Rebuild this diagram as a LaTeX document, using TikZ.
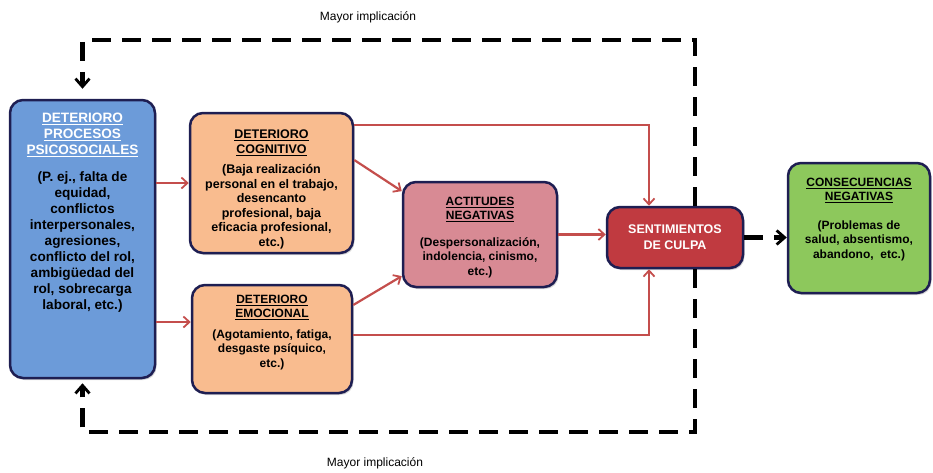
\documentclass[tikz,border=0pt]{standalone}
\usepackage{fontspec}
\setmainfont{Liberation Sans}
\usetikzlibrary{arrows.meta,shadows,positioning}
\definecolor{myblue}{RGB}{108,155,217}
\definecolor{mypeach}{RGB}{249,188,143}
\definecolor{mypink}{RGB}{216,138,148}
\definecolor{myred}{RGB}{192,58,64}
\definecolor{mygreen}{RGB}{141,200,92}
\definecolor{myline}{RGB}{30,30,82}
\definecolor{myarrow}{RGB}{196,78,76}
% width, height, top space, font size, line skip, text
\newcommand{\boxtext}[6]{\parbox[c][#2][t]{#1}{\centering\fontsize{#4}{#5}\selectfont\bfseries\vspace*{#3}#6}}
\tikzset{
  frame/.style={rectangle, draw=myline, line width=2.5pt, rounded corners=13pt, inner sep=0pt, drop shadow={opacity=0.3, shadow xshift=1.5pt, shadow yshift=-2pt}},
  arrow/.style={draw=myarrow, -{Straight Barb[length=6pt,width=11pt,line width=1.8pt]}, line width=2.2pt},
  back/.style={draw, -{Straight Barb[length=8pt,width=14pt,line width=2.8pt]}, line width=4.5pt, dash pattern=on 19pt off 11pt},
  note/.style={font=\fontsize{12}{14}\selectfont}
}

\begin{document}
\begin{tikzpicture}[x=1pt,y=-1pt]
\useasboundingbox (0,0) rectangle (933,472);

% boxes
\node [frame, fill=myblue, minimum width=145pt, minimum height=278pt] (psico) at (82.5,239)
{\boxtext{140pt}{276pt}{12pt}{13.6}{16}{\color{white}\underline{DETERIORO}\\ \underline{PROCESOS}\\ \underline{PSICOSOCIALES}\\[11pt]
\color{black}(P. ej., falta de\\ equidad,\\ conflictos\\ interpersonales,\\ agresiones,\\ conflicto del rol,\\ ambigüedad del\\ rol, sobrecarga\\ laboral, etc.)}};

\node [frame, fill=mypeach, minimum width=163pt, minimum height=140pt] (cogn) at (271.5,183)
{\boxtext{158pt}{138pt}{16pt}{12.5}{14.5}{\underline{DETERIORO}\\ \underline{COGNITIVO}\\[6pt]
(Baja realización\\ personal en el trabajo,\\ desencanto\\ profesional, baja\\ eficacia profesional,\\ etc.)}};

\node [frame, fill=mypeach, minimum width=160pt, minimum height=108pt] (emoc) at (272,339)
{\boxtext{152pt}{106pt}{9pt}{12}{14.5}{\underline{DETERIORO}\\ \underline{EMOCIONAL}\\[6pt]
(Agotamiento, fatiga,\\ desgaste psíquico,\\ etc.)}};

\node [frame, fill=mypink, minimum width=154pt, minimum height=105pt] (actit) at (480,234.5)
{\boxtext{148pt}{103pt}{14pt}{12}{14.5}{\underline{ACTITUDES}\\ \underline{NEGATIVAS}\\[12pt]
(Despersonalización,\\ indolencia, cinismo,\\ etc.)}};

\node [frame, fill=myred, minimum width=136pt, minimum height=61pt, text=white, font=\fontsize{12.5}{16}\selectfont\bfseries, align=center] (culpa) at (675,237.5)
{SENTIMIENTOS\\ DE CULPA};

\node [frame, fill=mygreen, minimum width=142pt, minimum height=130pt] (conse) at (859,228)
{\boxtext{136pt}{128pt}{14pt}{12}{14.5}{\underline{CONSECUENCIAS}\\ \underline{NEGATIVAS}\\[14pt]
(Problemas de\\ salud, absentismo,\\ abandono,\ \ etc.)}};

% labels
\node [note] (labtop) at (368,17) {Mayor implicación};
\node [note] (labbot) at (375,463) {Mayor implicación};

% red arrows
\coordinate (e1) at ([yshift=17pt]emoc.west);
\draw [arrow] (psico.east |- cogn.west) -- (cogn.west);
\draw [arrow] (psico.east |- e1) -- (e1);
\draw [arrow] ([yshift=23pt]cogn.east) -- (actit.151);
\draw [arrow] ([yshift=34pt]emoc.east) -- (actit.208);
\draw [arrow] ([yshift=58pt]cogn.east) -| ([xshift=-26pt]culpa.north);
\draw [arrow] ([yshift=4pt]emoc.east) -| ([xshift=-26pt]culpa.south);
\draw [arrow] (actit.east) -- (actit.east -| culpa.west);

% dashed feedback
\coordinate (rtop) at (695,40);
\coordinate (rbot) at (695,432);
\draw [back, shorten >=10pt] (culpa.north -| rtop) -- (rtop) -| (psico.north);
\draw [back, shorten >=4pt] (culpa.south -| rbot) -- (rbot) -| (psico.south);
\draw [back] (culpa.east) -- (conse.west |- culpa.east);

\end{tikzpicture}
\end{document}
